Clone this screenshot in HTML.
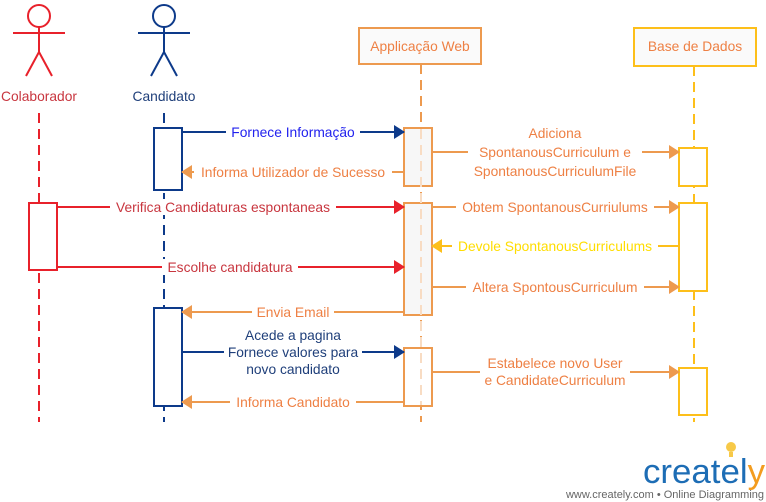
<!DOCTYPE html>
<html><head><meta charset="utf-8"><style>
html,body{margin:0;padding:0;background:#fff;}
svg{display:block;font-family:"Liberation Sans",sans-serif;}
</style></head><body>
<svg width="766" height="502" viewBox="0 0 766 502" xmlns="http://www.w3.org/2000/svg">
<defs>
<marker id="aB" markerWidth="12" markerHeight="16" refX="10" refY="7" orient="auto" markerUnits="userSpaceOnUse"><path d="M0,0 L11,7 L0,14 z" fill="#0d3a8a"/></marker>
<marker id="aR" markerWidth="12" markerHeight="16" refX="10" refY="7" orient="auto" markerUnits="userSpaceOnUse"><path d="M0,0 L11,7 L0,14 z" fill="#e8212b"/></marker>
<marker id="aO" markerWidth="12" markerHeight="16" refX="10" refY="7" orient="auto" markerUnits="userSpaceOnUse"><path d="M0,0 L11,7 L0,14 z" fill="#ed9a4f"/></marker>
<marker id="aY" markerWidth="12" markerHeight="16" refX="10" refY="7" orient="auto" markerUnits="userSpaceOnUse"><path d="M0,0 L11,7 L0,14 z" fill="#fdbf1a"/></marker>
</defs>
<!-- actors -->
<g stroke="#e8212b" stroke-width="2" fill="none">
<circle cx="39" cy="16" r="11"/><line x1="39" y1="27" x2="39" y2="52"/><line x1="13" y1="33" x2="65" y2="33"/>
<line x1="39" y1="52" x2="26" y2="76"/><line x1="39" y1="52" x2="52" y2="76"/>
<line x1="39" y1="113" x2="39" y2="422" stroke-dasharray="10,6"/>
</g>
<g stroke="#0d3a8a" stroke-width="2" fill="none">
<circle cx="164" cy="16" r="11"/><line x1="164" y1="27" x2="164" y2="52"/><line x1="138" y1="33" x2="190" y2="33"/>
<line x1="164" y1="52" x2="151" y2="76"/><line x1="164" y1="52" x2="177" y2="76"/>
<line x1="164" y1="113" x2="164" y2="422" stroke-dasharray="10,6"/>
</g>
<text x="39" y="101" fill="#c8363f" font-size="13.8" text-anchor="middle">Colaborador</text>
<text x="164" y="101" fill="#1f3f7a" font-size="13.8" text-anchor="middle">Candidato</text>
<!-- headers -->
<rect x="359" y="28" width="122" height="36" fill="#fafafa" stroke="#ed9a4f" stroke-width="2"/>
<text x="420" y="51" fill="#ee8044" font-size="13.8" text-anchor="middle">Applicação Web</text>
<rect x="634" y="28" width="122" height="38" fill="#fafafa" stroke="#fdbf1a" stroke-width="2"/>
<text x="695" y="51" fill="#ee8044" font-size="13.8" text-anchor="middle">Base de Dados</text>
<line x1="421" y1="64" x2="421" y2="422" stroke="#ed9a4f" stroke-width="2" stroke-dasharray="10,6"/>
<line x1="694" y1="66" x2="694" y2="422" stroke="#fdbf1a" stroke-width="2" stroke-dasharray="10,6"/>
<!-- activations -->
<rect x="29" y="203" width="28" height="67" fill="#fff" stroke="#e8212b" stroke-width="2"/>
<rect x="154" y="128" width="28" height="62" fill="#fff" stroke="#0d3a8a" stroke-width="2"/>
<rect x="154" y="308" width="28" height="98" fill="#fff" stroke="#0d3a8a" stroke-width="2"/>
<rect x="404" y="128" width="28" height="58" fill="#f7f7f7" stroke="#ed9a4f" stroke-width="2"/>
<rect x="404" y="203" width="28" height="112" fill="#f7f7f7" stroke="#ed9a4f" stroke-width="2"/>
<rect x="404" y="348" width="28" height="58" fill="#fff" stroke="#ed9a4f" stroke-width="2"/>
<line x1="421" y1="129" x2="421" y2="405" stroke="#f8dcc3" stroke-width="2" stroke-dasharray="10,6"/>
<rect x="679" y="148" width="28" height="38" fill="#fff" stroke="#fdbf1a" stroke-width="2"/>
<rect x="679" y="203" width="28" height="88" fill="#fff" stroke="#fdbf1a" stroke-width="2"/>
<rect x="679" y="368" width="28" height="47" fill="#fff" stroke="#fdbf1a" stroke-width="2"/>
<!-- messages -->
<g stroke-width="2" fill="none">
<line x1="182" y1="132" x2="404" y2="132" stroke="#0d3a8a" marker-end="url(#aB)"/>
<line x1="404" y1="172" x2="182" y2="172" stroke="#ed9a4f" marker-end="url(#aO)"/>
<line x1="432" y1="152" x2="679" y2="152" stroke="#ed9a4f" marker-end="url(#aO)"/>
<line x1="57" y1="207" x2="404" y2="207" stroke="#e8212b" marker-end="url(#aR)"/>
<line x1="432" y1="207" x2="679" y2="207" stroke="#ed9a4f" marker-end="url(#aO)"/>
<line x1="679" y1="246" x2="432" y2="246" stroke="#fdbf1a" marker-end="url(#aY)"/>
<line x1="57" y1="267" x2="404" y2="267" stroke="#e8212b" marker-end="url(#aR)"/>
<line x1="432" y1="287" x2="679" y2="287" stroke="#ed9a4f" marker-end="url(#aO)"/>
<line x1="404" y1="312" x2="182" y2="312" stroke="#ed9a4f" marker-end="url(#aO)"/>
<line x1="182" y1="352" x2="404" y2="352" stroke="#0d3a8a" marker-end="url(#aB)"/>
<line x1="432" y1="372" x2="679" y2="372" stroke="#ed9a4f" marker-end="url(#aO)"/>
<line x1="404" y1="402" x2="182" y2="402" stroke="#ed9a4f" marker-end="url(#aO)"/>
</g>
<g font-size="13.8" text-anchor="middle">
<rect x="226" y="124" width="134" height="16" fill="#fff"/>
<text x="293" y="137" fill="#2222ee">Fornece Informação</text>
<rect x="194" y="164" width="198" height="16" fill="#fff"/>
<text x="293" y="177" fill="#ee8044">Informa Utilizador de Sucesso</text>
<rect x="468" y="125" width="174" height="54" fill="#fff"/>
<text x="555" y="138" fill="#ee8044">Adiciona</text>
<text x="555" y="157" fill="#ee8044">SpontanousCurriculum e</text>
<text x="555" y="176" fill="#ee8044">SpontanousCurriculumFile</text>
<rect x="110" y="199" width="226" height="16" fill="#fff"/>
<text x="223" y="212" fill="#c8363f">Verifica Candidaturas espontaneas</text>
<rect x="456" y="199" width="198" height="16" fill="#fff"/>
<text x="555" y="212" fill="#ee8044">Obtem SpontanousCurriulums</text>
<rect x="452" y="238" width="206" height="16" fill="#fff"/>
<text x="555" y="251" fill="#ffdd00">Devole SpontanousCurriculums</text>
<rect x="162" y="259" width="136" height="16" fill="#fff"/>
<text x="230" y="272" fill="#c8363f">Escolhe candidatura</text>
<rect x="466" y="279" width="178" height="16" fill="#fff"/>
<text x="555" y="292" fill="#ee8044">Altera SpontousCurriculum</text>
<rect x="252" y="304" width="82" height="16" fill="#fff"/>
<text x="293" y="317" fill="#ee8044">Envia Email</text>
<rect x="224" y="326" width="138" height="52" fill="#fff"/>
<text x="293" y="340" fill="#1f3f7a">Acede a pagina</text>
<text x="293" y="357" fill="#1f3f7a">Fornece valores para</text>
<text x="293" y="374" fill="#1f3f7a">novo candidato</text>
<rect x="480" y="355" width="150" height="34" fill="#fff"/>
<text x="555" y="368" fill="#ee8044">Estabelece novo User</text>
<text x="555" y="385" fill="#ee8044">e CandidateCurriculum</text>
<rect x="230" y="394" width="126" height="16" fill="#fff"/>
<text x="293" y="407" fill="#ee8044">Informa Candidato</text>
</g>
<!-- logo -->
<circle cx="731" cy="447" r="5" fill="#f7c948"/><rect x="729" y="452" width="4" height="5" fill="#f7c948"/>
<text x="643" y="483" font-size="34" fill="#1d6db5" textLength="122" lengthAdjust="spacingAndGlyphs">createl<tspan fill="#f39c1f">y</tspan></text>
<text x="764" y="498" font-size="11" fill="#666" text-anchor="end">www.creately.com • Online Diagramming</text>
</svg>
</body></html>
